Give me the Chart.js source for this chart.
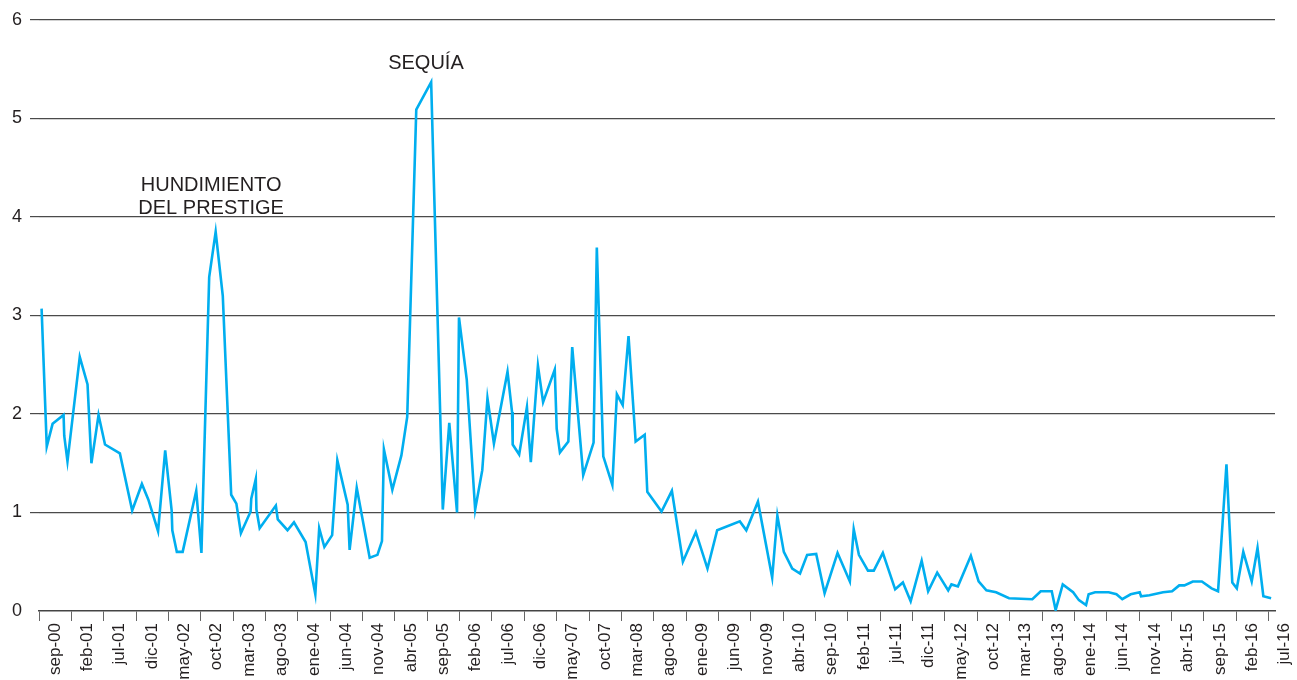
<!DOCTYPE html>
<html>
<head>
<meta charset="utf-8">
<script src="https://cdn.jsdelivr.net/npm/chart.js@4/dist/chart.umd.min.js"></script>
<style>
  html, body { margin: 0; padding: 0; background: #fff; }
  #wrap { width: 1297px; height: 680px; }
</style>
</head>
<body>
<div id="wrap"><canvas id="chart"></canvas></div>
<script>
// month labels, one every 5 months starting at sep-00
const tickLabels = ['sep-00','feb-01','jul-01','dic-01','may-02','oct-02','mar-03','ago-03','ene-04','jun-04',
  'nov-04','abr-05','sep-05','feb-06','jul-06','dic-06','may-07','oct-07','mar-08','ago-08',
  'ene-09','jun-09','nov-09','abr-10','sep-10','feb-11','jul-11','dic-11','may-12','oct-12',
  'mar-13','ago-13','ene-14','jun-14','nov-14','abr-15','sep-15','feb-16','jul-16'];

// months since sep-00 for each observation
const months = [0.4,1.2,2.1,3.8,3.9,4.4,6.3,7.5,8.1,9.2,10.2,12.5,14.4,15.9,16.9,18.4,19.5,20.5,20.6,21.3,
  22.2,24.3,25.1,26.3,27.3,28.4,29.7,30.5,31.2,32.7,32.8,33.5,33.6,34.1,36.6,36.9,38.4,39.4,41.2,42.7,
  43.3,44.1,45.3,46.1,47.7,48.0,49.1,51.1,52.3,53.0,53.3,54.6,56.0,56.9,58.3,60.6,62.4,63.4,64.6,64.9,
  66.1,67.4,68.5,69.3,70.3,72.4,73.1,73.2,74.2,75.4,75.7,76.0,77.1,77.9,79.7,80.0,80.5,81.8,82.4,84.1,
  85.7,86.2,87.2,88.6,89.3,90.2,91.1,92.2,93.6,94.0,96.2,97.8,99.5,101.5,103.3,104.8,108.3,109.3,111.1,113.3,
  114.1,115.1,116.4,117.6,118.7,120.1,121.4,123.4,125.3,125.9,126.7,128.1,129.0,130.4,132.3,133.5,134.7,136.4,
  137.4,138.8,140.5,141.0,142.0,144.0,145.2,146.4,147.9,149.9,153.5,154.8,156.5,157.1,158.2,159.8,160.7,161.8,
  162.2,163.2,165.3,166.5,167.4,168.7,170.1,170.3,171.6,173.7,175.1,176.2,177.0,178.3,179.7,181.2,182.2,183.5,
  184.4,185.1,186.1,187.4,188.3,189.2,190.4];

const values = [3.07,1.67,1.90,1.99,1.78,1.52,2.58,2.30,1.50,1.99,1.69,1.60,1.02,1.29,1.13,0.81,1.63,1.02,0.82,0.60,
  0.60,1.22,0.59,3.39,3.85,3.20,1.18,1.09,0.79,1.01,1.14,1.34,1.03,0.84,1.07,0.93,0.82,0.90,0.70,0.17,
  0.84,0.65,0.77,1.53,1.08,0.62,1.25,0.54,0.57,0.71,1.64,1.23,1.58,1.97,5.09,5.37,1.03,1.91,1.00,2.98,
  2.35,1.03,1.43,2.16,1.70,2.43,2.02,1.69,1.59,2.07,1.77,1.51,2.49,2.12,2.45,1.85,1.61,1.72,2.68,1.38,
  1.71,3.69,1.57,1.28,2.20,2.09,2.79,1.72,1.79,1.21,1.01,1.22,0.50,0.80,0.43,0.82,0.91,0.82,1.11,0.34,
  0.97,0.60,0.43,0.38,0.57,0.58,0.18,0.59,0.30,0.83,0.57,0.41,0.41,0.59,0.22,0.29,0.10,0.51,
  0.20,0.39,0.21,0.27,0.25,0.56,0.30,0.21,0.19,0.13,0.12,0.20,0.20,0.01,0.27,0.19,0.11,0.06,
  0.17,0.19,0.19,0.17,0.12,0.17,0.19,0.15,0.16,0.19,0.20,0.26,0.26,0.30,0.30,0.23,0.20,1.49,
  0.29,0.23,0.60,0.30,0.64,0.15,0.13];

// annotation texts anchored in data units (month, value)
const notes = [
  { lines: ['HUNDIMIENTO', 'DEL PRESTIGE'], month: 26.6, value: 4.32 },
  { lines: ['SEQUÍA'], month: 59.8, value: 5.56 }
];

const FONT = "'Liberation Sans', Arial, Helvetica, sans-serif";

const notesPlugin = {
  id: 'notes',
  afterDatasetsDraw(chart) {
    const ctx = chart.ctx;
    const xs = chart.scales.x, ys = chart.scales.y;
    ctx.save();
    ctx.font = '20px ' + FONT;
    ctx.fillStyle = '#231f20';
    ctx.textAlign = 'center';
    ctx.textBaseline = 'middle';
    notes.forEach(n => {
      const px = xs.getPixelForValue(n.month);
      const py = ys.getPixelForValue(n.value);
      n.lines.forEach((t, i) => ctx.fillText(t, px, py + i * 23));
    });
    ctx.restore();
  }
};

const points = months.map((m, i) => ({ x: m, y: values[i] }));

new Chart(document.getElementById('chart').getContext('2d'), {
  type: 'line',
  data: {
    datasets: [{
      data: points,
      borderColor: 'rgb(0, 174, 239)',
      borderWidth: 2.6,
      pointRadius: 0,
      tension: 0,
      fill: false
    }]
  },
  options: {
    responsive: true,
    maintainAspectRatio: false,
    animation: false,
    layout: { padding: { top: 20, right: 22, left: 0, bottom: 0 } },
    plugins: { legend: { display: false }, tooltip: { enabled: false } },
    scales: {
      x: {
        type: 'linear',
        min: 0,
        max: 191,
        afterBuildTicks: s => { s.ticks = tickLabels.map((l, i) => ({ value: i * 5 })); },
        afterFit: s => { s.height = 69; },
        ticks: {
          autoSkip: false,
          minRotation: 90,
          maxRotation: 90,
          labelOffset: 16,
          padding: 2,
          color: '#231f20',
          font: { family: FONT, size: 17 },
          callback: v => tickLabels[Math.round(v / 5)]
        },
        grid: {
          drawOnChartArea: false,
          drawTicks: true,
          tickLength: 10,
          tickColor: '#666',
          color: '#666'
        },
        border: { display: true, color: '#444', width: 1.5 }
      },
      y: {
        min: 0,
        max: 6,
        afterFit: s => { s.width = 39; },
        ticks: {
          stepSize: 1,
          padding: 8,
          color: '#231f20',
          font: { family: FONT, size: 18 }
        },
        grid: {
          color: c => c.tick && c.tick.value === 0 ? 'rgba(0,0,0,0)' : '#4a4a4a',
          tickColor: c => c.tick && c.tick.value === 0 ? 'rgba(0,0,0,0)' : '#4a4a4a',
          tickLength: 9,
          lineWidth: 1.2
        },
        border: { display: false }
      }
    }
  },
  plugins: [notesPlugin]
});
</script>
</body>
</html>
